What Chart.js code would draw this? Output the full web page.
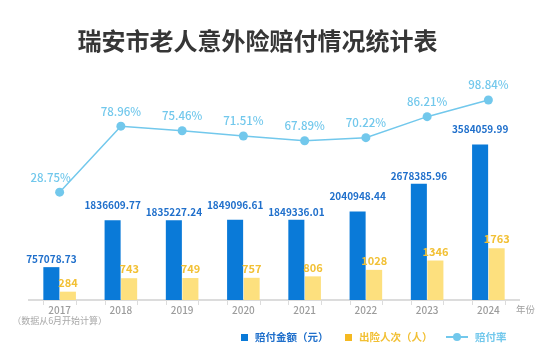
<!DOCTYPE html>
<html>
<head>
<meta charset="utf-8">
<script src="https://cdn.jsdelivr.net/npm/chart.js@4"></script>
<style>
  html,body{margin:0;padding:0;background:#fff;}
  body{font-family:'Noto Sans CJK SC','Noto Sans',sans-serif;}
  #wrap{position:relative;width:550px;height:362px;overflow:hidden;}
  #chart{position:absolute;left:0;top:0;}
  .title{position:absolute;left:0;top:26px;width:515px;text-align:center;font-size:24px;font-weight:700;color:#363636;line-height:28px;}
  .unit{position:absolute;left:516px;top:303px;font-size:9.5px;color:#a0a0a0;line-height:12px;}
  .lg{position:absolute;top:330px;height:14px;line-height:14px;font-size:10.5px;font-weight:700;}
  .sq{position:absolute;width:7px;height:7px;top:334px;}
</style>
</head>
<body>
<div id="wrap">
  <canvas id="chart" width="550" height="362"></canvas>
  <div class="title">瑞安市老人意外险赔付情况统计表</div>
  <div class="unit">年份</div>
  <div class="sq" style="left:241px;background:#0a7ad8"></div>
  <div class="lg" style="left:255px;color:#1f6fcb">赔付金额（元）</div>
  <div class="sq" style="left:345px;background:#f5b921"></div>
  <div class="lg" style="left:359px;color:#f2c034">出险人次（人）</div>
  <div style="position:absolute;left:446px;top:336px;width:22px;height:1.5px;background:#72c8ec"></div>
  <div style="position:absolute;left:453px;top:333px;width:8px;height:8px;border-radius:50%;background:#72c8ec"></div>
  <div class="lg" style="left:475px;color:#72c8ec">赔付率</div>
</div>
<script>
const BLUE='#0a7ad8', BLUE_TXT='#1f6fcb', YEL='#fde07e', YEL_TXT='#f2c034', SKY='#72c8ec', RULE='#dcdcdc';
const FONT="'Noto Sans CJK SC','Noto Sans',sans-serif";

const years = ['2017','2018','2019','2020','2021','2022','2023','2024'];
const yearNote = '（数据从6月开始计算）';
const payout = [757078.73,1836609.77,1835227.24,1849096.61,1849336.01,2040948.44,2678385.96,3584059.99];
const cases = [284,743,749,757,806,1028,1346,1763];
const rate = [28.75,78.96,75.46,71.51,67.89,70.22,86.21,98.84];

// value labels above bars and points (gap = distance of label centre above the mark)
const valueLabels = {
  id:'valueLabels',
  afterDatasetsDraw(chart){
    const ctx = chart.ctx;
    chart.data.datasets.forEach((ds,i)=>{
      const meta = chart.getDatasetMeta(i);
      ctx.save();
      ctx.textAlign='center'; ctx.textBaseline='middle';
      ctx.fillStyle = ds.labelColor;
      ctx.font = ds.labelFont;
      meta.data.forEach((el,j)=>{
        ctx.fillText(ds.fmt(ds.data[j]), el.x - (ds.labelShift ? ds.labelShift(j) : 0), el.y - ds.labelGap(j));
      });
      ctx.restore();
    });
  }
};

// tick marks at the outer edges of each bar pair, plus the note under 2017
const edgeTicks = {
  id:'edgeTicks',
  afterDraw(chart){
    const ctx = chart.ctx, yb = chart.chartArea.bottom;
    const a = chart.getDatasetMeta(1).data, b = chart.getDatasetMeta(2).data;
    ctx.save();
    ctx.strokeStyle = RULE; ctx.lineWidth = 1;
    a.forEach((el,i)=>{
      const l = el.x - el.width/2, r = b[i].x + b[i].width/2;
      [l,r].forEach(x=>{
        ctx.beginPath(); ctx.moveTo(Math.round(x)+0.5,yb); ctx.lineTo(Math.round(x)+0.5,yb+5); ctx.stroke();
      });
    });
    ctx.fillStyle='#a8a8a8'; ctx.font=`400 9px ${FONT}`;
    ctx.textAlign='center'; ctx.textBaseline='middle';
    ctx.fillText(yearNote, chart.scales.x.getPixelForTick(0), yb + 21);
    ctx.restore();
  }
};

new Chart(document.getElementById('chart'),{
  data:{
    labels: years,
    datasets:[
      {type:'line', label:'赔付率', data:rate, yAxisID:'yRate', order:0,
       borderColor:SKY, backgroundColor:SKY, borderWidth:1.5, pointRadius:4.5, pointBackgroundColor:SKY,
       pointBorderWidth:0, tension:0,
       labelColor:SKY, labelFont:`500 11.5px ${FONT}`, labelGap:()=>15, labelShift:j=>j===0?9:0,
       fmt:v=>v.toFixed(2)+'%'},
      {type:'bar', label:'赔付金额（元）', data:payout, yAxisID:'yPay', order:1,
       backgroundColor:BLUE, categoryPercentage:0.54, barPercentage:0.97,
       labelColor:BLUE_TXT, labelFont:`700 10px ${FONT}`, labelGap:j=>j%2?15:8, fmt:v=>v.toFixed(2)},
      {type:'bar', label:'出险人次（人）', data:cases, yAxisID:'yCase', order:2,
       backgroundColor:YEL, categoryPercentage:0.54, barPercentage:0.97,
       labelColor:YEL_TXT, labelFont:`700 11px ${FONT}`, labelGap:()=>9, fmt:v=>String(v)}
    ]
  },
  options:{
    responsive:false, animation:false, devicePixelRatio:1,
    layout:{padding:{left:29,right:31,top:80,bottom:0}},
    plugins:{legend:{display:false},tooltip:{enabled:false},title:{display:false}},
    scales:{
      x:{
        grid:{display:false,drawTicks:false},
        border:{display:true,color:RULE,width:2},
        ticks:{color:'#9c9c9c',font:{family:FONT,size:10,weight:'500'},padding:4,maxRotation:0,autoSkip:false},
        afterFit:s=>{s.height=62;}
      },
      yPay:{display:false,min:0,max:5070000},
      yCase:{display:false,min:0,max:7500},
      yRate:{display:false,min:-53.3,max:114.1}
    }
  },
  plugins:[valueLabels,edgeTicks]
});
</script>
</body>
</html>
